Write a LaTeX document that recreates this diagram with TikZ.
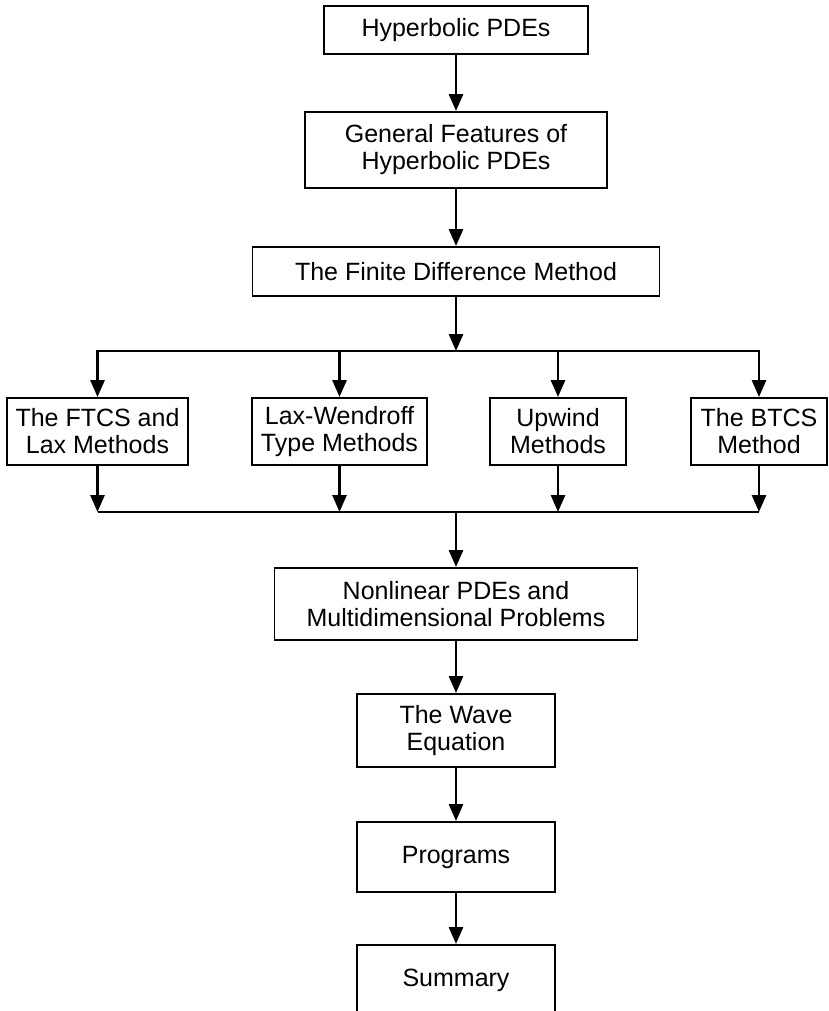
\documentclass[tikz,border=0pt]{standalone}
\usepackage{fontspec}
\setmainfont{Liberation Sans}
\usetikzlibrary{arrows.meta}

\begin{document}
\begin{tikzpicture}[x=1pt, y=-1pt,
        topic/.style={draw, line width=1.9pt, align=center, inner sep=0pt,
                      font=\fontsize{25}{27}\selectfont},
        link/.style={line width=2.8pt},
        arr/.style={link, -{Triangle[width=14pt,length=17pt]}}]
    \useasboundingbox (0,0) rectangle (828,1011);
    \clip (0,0) rectangle (828,1011);
    % main column
    \node[topic, minimum width=264pt, minimum height=48pt] (hyp) at (456,30) {Hyperbolic PDEs};
    \node[topic, minimum width=302pt, minimum height=76pt] (feat) at (456,150) {General Features of\\Hyperbolic PDEs};
    \node[topic, minimum width=407pt, minimum height=49pt] (fdm) at (456,271.5) {The Finite Difference Method};
    % the four methods
    \node[topic, minimum width=181pt, minimum height=67pt] (ftcs) at (97.5,431.5) {The FTCS and\\Lax Methods};
    \node[topic, minimum width=175pt, minimum height=67pt] (lw) at (339.5,431.5) {Lax-Wendroff\\Type Methods};
    \node[topic, minimum width=136pt, minimum height=67pt] (upw) at (558,431.5) {Upwind\\Methods};
    \node[topic, minimum width=136pt, minimum height=67pt] (btcs) at (759,431.5) {The BTCS\\Method};
    % lower column
    \node[topic, minimum width=363pt, minimum height=72pt] (nonlin) at (456,604) {Nonlinear PDEs and\\Multidimensional Problems};
    \node[topic, minimum width=198pt, minimum height=73pt] (wave) at (456,730.5) {The Wave\\Equation};
    \node[topic, minimum width=198pt, minimum height=70pt] (prog) at (456,857) {Programs};
    \node[topic, minimum width=198pt, minimum height=70pt] (summ) at (456,980) {Summary};
    \coordinate (split) at (456,351);
    \coordinate (merge) at (456,512);
    % connectors
    \draw[arr] (hyp) -- (feat);
    \draw[arr] (feat) -- (fdm);
    \draw[arr] (fdm) -- (split);
    \draw[arr] (split) -| (ftcs);
    \draw[arr] (split) -| (btcs);
    \draw[arr] (lw |- split) -- (lw);
    \draw[arr] (upw |- split) -- (upw);
    \draw[link] (ftcs |- merge) -- (btcs |- merge);
    \draw[arr] (ftcs) -- (ftcs |- merge);
    \draw[arr] (lw) -- (lw |- merge);
    \draw[arr] (upw) -- (upw |- merge);
    \draw[arr] (btcs) -- (btcs |- merge);
    \draw[arr] (merge) -- (nonlin);
    \draw[arr] (nonlin) -- (wave);
    \draw[arr] (wave) -- (prog);
    \draw[arr] (prog) -- (summ);
\end{tikzpicture}
\end{document}
